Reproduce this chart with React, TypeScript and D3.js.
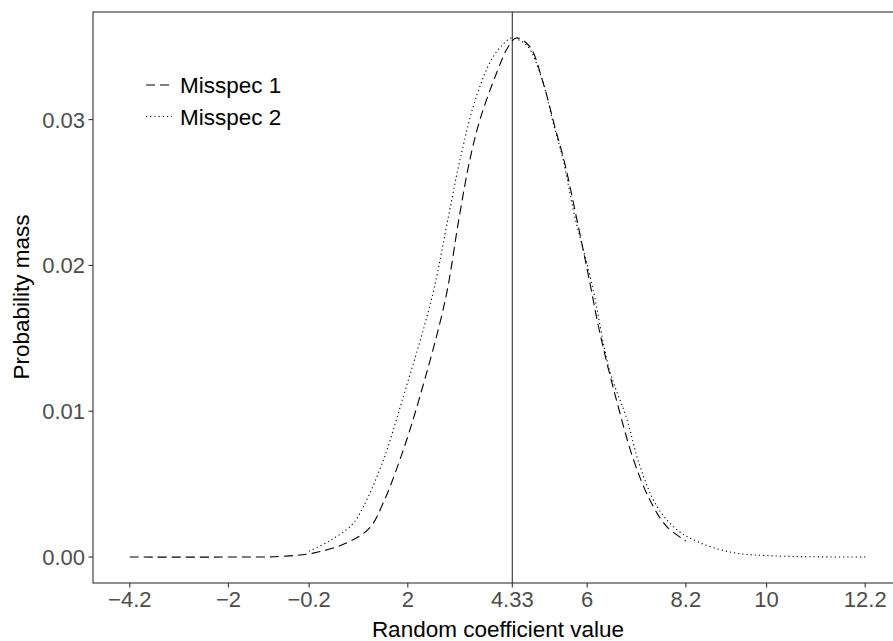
import React from 'react'
import * as d3 from 'd3'

// Misspec 1 (dashed)
const misspec1X = [-4.2, -2, -0.86, -0.11, 0.63, 1.15, 1.45, 1.85, 2.25, 2.84, 3.14, 3.38, 3.61, 3.98, 4.24, 4.42, 4.72, 5.02, 5.28, 5.5, 5.76, 6.06, 6.28, 6.65, 7.03, 7.4, 7.77, 8.2]
const misspec1Y = [0, 0, 0.00004, 0.00027, 0.00096, 0.002, 0.0037, 0.0069, 0.0108, 0.0177, 0.0232, 0.0272, 0.03, 0.0332, 0.035, 0.0356, 0.035, 0.0325, 0.0295, 0.027, 0.0233, 0.0188, 0.0154, 0.0108, 0.0067, 0.0039, 0.0021, 0.0011]

// Misspec 2 (dotted)
const misspec2X = [-0.2, 0.25, 0.75, 1.0, 1.45, 1.88, 2.53, 2.91, 3.16, 3.53, 3.9, 4.2, 4.31, 4.65, 4.98, 5.24, 5.46, 5.72, 6.1, 6.5, 6.88, 7.17, 7.55, 7.99, 8.5, 9.25, 10, 11, 12.2]
const misspec2Y = [0.0004, 0.0011, 0.0022, 0.0034, 0.0066, 0.0108, 0.0177, 0.0234, 0.0272, 0.0316, 0.0343, 0.0354, 0.0356, 0.0351, 0.0329, 0.0298, 0.0273, 0.0234, 0.0188, 0.0128, 0.0095, 0.0063, 0.0035, 0.0019, 0.001, 0.0003, 0.0001, 0.00002, 0]

const xTicks = [-4.2, -2, -0.2, 2, 4.33, 6, 8.2, 10, 12.2]
const yTicks = [0, 0.01, 0.02, 0.03]
const refValue = 4.33

const seriesNames = ['Misspec 1', 'Misspec 2']
const seriesDash = ['9,5', '1.2,3']

const W = 893
const H = 641
const font = '"Liberation Sans", Arial, sans-serif'

const App = () => {
  const allX = misspec1X.concat(misspec2X)
  const allY = misspec1Y.concat(misspec2Y)
  const [x0, x1] = d3.extent(allX) as [number, number]
  const [y0, y1] = d3.extent(allY) as [number, number]
  const xPad = (x1 - x0) * 0.05
  const yPad = (y1 - y0) * 0.05

  const panel = {left: 93, top: 12, bottom: 583, right: 902}

  const x = d3.scaleLinear().domain([x0 - xPad, x1 + xPad]).range([panel.left, panel.right])
  const y = d3.scaleLinear().domain([y0 - yPad, y1 + yPad]).range([panel.bottom, panel.top])

  const line = d3.line<[number, number]>()
    .x(d => x(d[0]))
    .y(d => y(d[1]))
    .curve(d3.curveCatmullRom.alpha(0.5))

  const paths = [
    line(misspec1X.map((v, i) => [v, misspec1Y[i]])),
    line(misspec2X.map((v, i) => [v, misspec2Y[i]])),
  ]

  const fmtX = (v: number) => String(v).replace('-', '\u2212')
  const fmtY = d3.format('.2f')

  return (
    <svg width={W} height={H} style={{position: 'absolute', left: 0, top: 0, background: '#fff'}} fontFamily={font}>
      <rect x={0} y={0} width={W} height={H} fill="#fff"/>
      {/* panel border */}
      <rect x={panel.left} y={panel.top} width={panel.right - panel.left} height={panel.bottom - panel.top}
        fill="none" stroke="#333" strokeWidth={1.1}/>

      {/* reference line */}
      <line x1={x(refValue)} x2={x(refValue)} y1={panel.top} y2={panel.bottom} stroke="#333" strokeWidth={1.1}/>

      {paths.map((p, i) => (
        <path key={i} d={p || ''} fill="none" stroke="#000" strokeWidth={1.1} strokeDasharray={seriesDash[i]}/>
      ))}

      {/* x axis */}
      {xTicks.map(t => (
        <g key={t}>
          <line x1={x(t)} x2={x(t)} y1={panel.bottom} y2={panel.bottom + 4.5} stroke="#333" strokeWidth={1.1}/>
          <text x={x(t)} y={607} textAnchor="middle" fontSize={22} fill="#4d4d4d">{fmtX(t)}</text>
        </g>
      ))}
      <text x={498} y={637} textAnchor="middle" fontSize={22.5} fill="#000">
        Random coefficient value
      </text>

      {/* y axis */}
      {yTicks.map(t => (
        <g key={t}>
          <line x1={panel.left - 4.5} x2={panel.left} y1={y(t)} y2={y(t)} stroke="#333" strokeWidth={1.1}/>
          <text x={85} y={y(t)} dy="0.36em" textAnchor="end" fontSize={22} fill="#4d4d4d">{fmtY(t)}</text>
        </g>
      ))}
      <text transform={`translate(29,297) rotate(-90)`} textAnchor="middle" fontSize={22.5} fill="#000">
        Probability mass
      </text>

      {/* legend */}
      {seriesNames.map((name, i) => (
        <g key={name} transform={`translate(0,${85 + i * 31.5})`}>
          <line x1={146} x2={172} y1={0} y2={0} stroke="#000" strokeWidth={1.1} strokeDasharray={seriesDash[i]}/>
          <text x={180} y={0} dy="0.36em" fontSize={22.5} fill="#000">{name}</text>
        </g>
      ))}
    </svg>
  )
}

export default App
